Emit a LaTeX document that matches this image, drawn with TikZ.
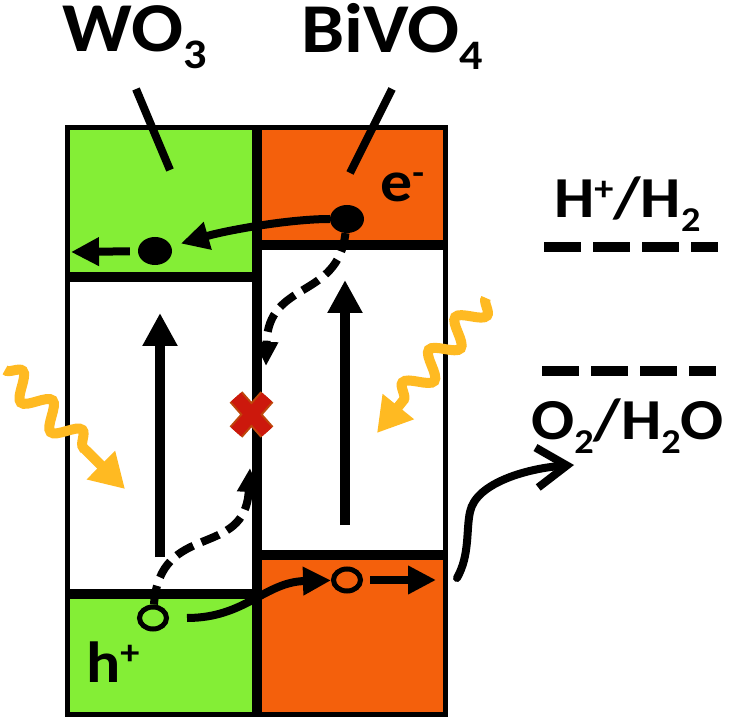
\documentclass[tikz,border=0pt]{standalone}
\usepackage{fontspec}
\setmainfont{Carlito}[FakeStretch=1.1]
\usepackage{graphicx}
\usetikzlibrary{arrows.meta,decorations.pathmorphing,shapes.geometric,positioning}

\definecolor{wogreen}{RGB}{132,238,54}
\definecolor{bvorange}{RGB}{244,96,12}
\definecolor{sunyellow}{RGB}{255,186,34}
\definecolor{xred}{RGB}{204,24,12}
\definecolor{xrim}{RGB}{190,70,10}

\newcommand\lowidx[1]{\raisebox{-0.24em}{\scalebox{0.6}{#1}}}
\newcommand\highidx[1]{\raisebox{0.3em}{\scalebox{0.6}{#1}}}

\tikzset{
  band/.style={draw=black, line width=5pt},
  bigtag/.style={font=\fontsize{70}{80}\selectfont\bfseries, inner sep=0pt, anchor=base west},
  smalltag/.style={font=\fontsize{58}{66}\selectfont\bfseries, inner sep=0pt, anchor=base west},
  pointer/.style={line width=8pt},
  electron/.style={ellipse, fill=black, inner sep=0pt, minimum width=34pt, minimum height=28pt},
  hole/.style={ellipse, draw=black, line width=5pt, inner sep=0pt, minimum width=27pt, minimum height=22pt},
  flow/.style={line width=8pt, -{Triangle[length=28pt, width=27pt]}},
  excite/.style={line width=10pt, -{Triangle[length=33pt, width=33pt]}},
  tunnel/.style={line width=8pt, dash pattern=on 19pt off 9pt, -{Triangle[length=24pt, width=22pt]}},
  release/.style={line width=8pt, line cap=round, -{Straight Barb[length=30pt, width=40pt, line width=8pt]}},
  redox/.style={line width=10pt, dash pattern=on 37pt off 12pt},
  sunray/.style={sunyellow, line width=10pt, decorate,
    decoration={snake, amplitude=12pt, segment length=42pt, post length=40pt},
    -{Triangle[length=34pt, width=38pt]}},
}

\begin{document}
\begin{tikzpicture}[x=1pt, y=-1pt]
  \useasboundingbox (0,0) rectangle (732,722);

  % bands of the two oxides
  \draw[band, fill=wogreen] (67.5,127.5) rectangle (254.5,275);
  \draw[band, fill=white] (67.5,280) rectangle (254.5,591.5);
  \draw[band, fill=wogreen] (67.5,596.5) rectangle (254.5,714.5);
  \draw[band, fill=bvorange] (259.5,127.5) rectangle (445.5,242.5);
  \draw[band, fill=white] (259.5,247.5) rectangle (445.5,552.5);
  \draw[band, fill=bvorange] (259.5,557.5) rectangle (445.5,714.5);

  \node[bigtag] (wo) at (62,52) {WO\lowidx{3}};
  \node[bigtag] (bvo) at (301,53) {BiVO\lowidx{4}};
  \coordinate (wotop) at (136,89);
  \coordinate (woend) at (170,170);
  \coordinate (bvotop) at (392,89);
  \coordinate (bvoend) at (350,173);
  \draw[pointer] (wotop) -- (woend);
  \draw[pointer] (bvotop) -- (bvoend);

  % carriers
  \node[electron] (eW) at (155,251) {};
  \node[electron] (eB) at (347,219) {};
  \node[hole] (hW) at (153,618) {};
  \node[hole] (hB) at (347,580) {};
  \node[smalltag] (elab) at (380,202) {e\highidx{-}};
  \node[smalltag] (hlab) at (86,682) {h\highidx{+}};

  \coordinate (wleft) at (71,252);
  \coordinate (bright) at (436,580);
  \draw[flow, shorten >=10pt] (eB) .. controls (290,219) and (228,230) .. (eW);
  \draw[flow, shorten <=8pt] (eW) -- (wleft);
  \draw[flow, shorten <=18pt] (hW) .. controls (245,618) and (265,582) .. (hB);
  \draw[flow, shorten <=7pt] (hB) -- (bright);

  % excitation
  \coordinate (wlow) at (160,557);
  \coordinate (whigh) at (160,313);
  \coordinate (blow) at (345,525);
  \coordinate (bhigh) at (345,280);
  \draw[excite] (wlow) -- (whigh);
  \draw[excite] (blow) -- (bhigh);

  % blocked recombination
  \coordinate (upstop) at (250,468);
  \coordinate (downstop) at (266,366);
  \draw[tunnel] (hW) .. controls (160,520) and (245,560) .. (upstop);
  \draw[tunnel] (eB) .. controls (338,300) and (268,280) .. (downstop);

  \coordinate (xa) at (236,397);
  \coordinate (xb) at (267,432);
  \coordinate (xc) at (267,397);
  \coordinate (xd) at (236,432);
  \foreach \w/\c in {17/xrim,13/xred}
    \draw[line width=\w pt, color=\c] (xa) -- (xb) (xc) -- (xd);

  % light
  \coordinate (sunL) at (5,370);
  \coordinate (sunLtip) at (125,489);
  \coordinate (sunR) at (486,298);
  \coordinate (sunRtip) at (377,433);
  \draw[sunray] (sunL) -- (sunLtip);
  \draw[sunray] (sunR) -- (sunRtip);

  % redox levels
  \coordinate (hlevA) at (544,247);
  \coordinate (hlevB) at (718,247);
  \coordinate (olevA) at (542,371);
  \coordinate (olevB) at (716,371);
  \draw[redox] (hlevA) -- (hlevB);
  \draw[redox] (olevA) -- (olevB);
  \node[smalltag] (hlab2) at (554,218) {H\highidx{+}/H\lowidx{2}};
  \node[smalltag] (olab) at (531,440) {O\lowidx{2}/H\lowidx{2}O};

  \coordinate (bout) at (457,578);
  \coordinate (o2in) at (574,465);
  \draw[release] (bout) .. controls (470,555) and (466,530) .. (470,512)
    .. controls (476,482) and (530,468) .. (o2in);
\end{tikzpicture}
\end{document}
